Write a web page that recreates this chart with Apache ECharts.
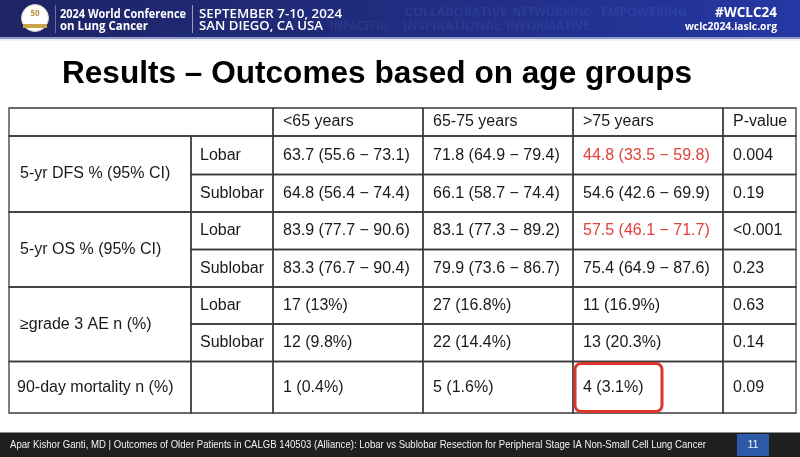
<!DOCTYPE html>
<html><head><meta charset="utf-8">
<script src="https://cdn.jsdelivr.net/npm/echarts@6/dist/echarts.min.js"></script>
<style>html,body{margin:0;padding:0;background:#fff;}#c{width:800px;height:457px;}</style>
</head><body><div id="c"></div>
<script>
// ---- data ----
const titleText = 'Results – Outcomes based on age groups';
const colHeaders = ['<65 years', '65-75 years', '>75 years', 'P-value'];
const outcomes = ['5-yr DFS % (95% CI)', '5-yr OS % (95% CI)', '≥grade 3 AE n (%)', '90-day mortality n (%)'];
const arms = ['Lobar', 'Sublobar'];
const dfsLobar = ['63.7 (55.6 − 73.1)', '71.8 (64.9 − 79.4)', '44.8 (33.5 − 59.8)', '0.004'];
const dfsSublobar = ['64.8 (56.4 − 74.4)', '66.1 (58.7 − 74.4)', '54.6 (42.6 − 69.9)', '0.19'];
const osLobar = ['83.9 (77.7 − 90.6)', '83.1 (77.3 − 89.2)', '57.5 (46.1 − 71.7)', '<0.001'];
const osSublobar = ['83.3 (76.7 − 90.4)', '79.9 (73.6 − 86.7)', '75.4 (64.9 − 87.6)', '0.23'];
const aeLobar = ['17 (13%)', '27 (16.8%)', '11 (16.9%)', '0.63'];
const aeSublobar = ['12 (9.8%)', '22 (14.4%)', '13 (20.3%)', '0.14'];
const mortality = ['1 (0.4%)', '5 (1.6%)', '4 (3.1%)', '0.09'];
const redCells = [[0, 2], [2, 2]];   // [body row, value column] shown in red
const boxedCells = [[6, 2]];         // [body row, value column] circled
const footerText = 'Apar Kishor Ganti, MD | Outcomes of Older Patients in CALGB 140503 (Alliance): Lobar vs Sublobar Resection for Peripheral Stage IA Non-Small Cell Lung Cancer';
const pageNo = '11';
const confName = ['2024 World Conference', 'on Lung Cancer'];
const confDate = ['SEPTEMBER 7-10, 2024', 'SAN DIEGO, CA USA'];
const confTag = ['#WCLC24', 'wclc2024.iaslc.org'];

// ---- layout (pixels) ----
const colEdges = [9, 191, 273, 423, 573, 723, 796];
const rowEdges = [108, 136, 174.5, 212, 249.5, 287, 324, 361.5, 413];
const RED = '#e2403a';

const measureCtx = document.createElement('canvas').getContext('2d');
function fitScale(text, font, width) {
  measureCtx.font = font;
  return width / measureCtx.measureText(text).width;
}

const bodyRows = [dfsLobar, dfsSublobar, osLobar, osSublobar, aeLobar, aeSublobar, mortality];
const cells = [];
function addCell(c0, c1, r0, r1, text, opt) {
  cells.push(Object.assign({x0: colEdges[c0], x1: colEdges[c1], y0: rowEdges[r0], y1: rowEdges[r1], text: text}, opt || {}));
}
addCell(0, 2, 0, 1, '');
colHeaders.forEach((h, i) => addCell(i + 2, i + 3, 0, 1, h));
for (let g = 0; g < 3; g++) addCell(0, 1, 1 + g * 2, 3 + g * 2, outcomes[g], {indent: 11});
addCell(0, 1, 7, 8, outcomes[3], {indent: 8});
for (let r = 0; r < 6; r++) addCell(1, 2, 1 + r, 2 + r, arms[r % 2], {indent: 9});
addCell(1, 2, 7, 8, '');
bodyRows.forEach((row, r) => {
  row.forEach((v, c) => {
    const red = redCells.some(p => p[0] === r && p[1] === c);
    const box = boxedCells.some(p => p[0] === r && p[1] === c);
    addCell(c + 2, c + 3, r + 1, r + 2, v, {color: red ? RED : '#1a1a1a', box: box});
  });
});

const chart = echarts.init(document.getElementById('c'), null, {renderer: 'canvas'});

function fittedText(text, x, y, font, width, fill, align) {
  const s = fitScale(text, font, width);
  return {type: 'text', x: x, y: y, scaleX: s,
    style: {text: text, fill: fill, font: font, align: align || 'left', verticalAlign: 'middle'}};
}

const graphics = [];
graphics.push({type: 'rect', shape: {x: 0, y: 0, width: 800, height: 38},
  style: {fill: new echarts.graphic.LinearGradient(0, 0, 1, 0, [
    {offset: 0, color: '#1d2565'}, {offset: 0.45, color: '#202b7c'}, {offset: 1, color: '#2538a3'}])}});
graphics.push({type: 'rect', shape: {x: 0, y: 37, width: 800, height: 2}, style: {fill: '#8e9acb'}});
graphics.push({type: 'rect', shape: {x: 0, y: 39, width: 800, height: 2}, style: {fill: '#eef0f6'}});
// faint watermark words
const wm = [
  ['COLLABORATIVE', 405, 13, 102], ['NETWORKING', 512, 13, 80], ['EMPOWERING', 601, 13, 86],
  ['INSPIRATIONAL', 403, 27, 98], ['INFORMATIVE', 506, 27, 84], ['IMPACTFUL', 330, 27, 60]
];
wm.forEach(w => graphics.push(Object.assign(
  fittedText(w[0], w[1], w[2], 'bold 12px "Open Sans", sans-serif', w[3], 'rgba(110,140,230,0.13)'), {silent: true})));
// logo
graphics.push({type: 'circle', shape: {cx: 35, cy: 18, r: 13.5}, style: {fill: '#ffffff', stroke: '#d8d2bb', lineWidth: 1}});
graphics.push({type: 'text', x: 35, y: 14, style: {text: '50', fill: '#b8953a', font: 'bold 8px "Open Sans", sans-serif', align: 'center', verticalAlign: 'middle'}});
graphics.push({type: 'rect', shape: {x: 23, y: 24, width: 24, height: 4}, style: {fill: '#c7a548'}});
graphics.push({type: 'line', shape: {x1: 55.5, y1: 5, x2: 55.5, y2: 33}, style: {stroke: 'rgba(255,255,255,0.35)', lineWidth: 1}});
graphics.push({type: 'line', shape: {x1: 192.5, y1: 5, x2: 192.5, y2: 33}, style: {stroke: 'rgba(255,255,255,0.55)', lineWidth: 1}});
// header texts
graphics.push(fittedText(confName[0], 60, 14.5, 'bold 12.5px "Open Sans", sans-serif', 126, '#fff'));
graphics.push(fittedText(confName[1], 60, 26.5, 'bold 12.5px "Open Sans", sans-serif', 88, '#fff'));
graphics.push(fittedText(confDate[0], 199, 14.5, '600 12.5px "Open Sans", sans-serif', 143, '#fff'));
graphics.push(fittedText(confDate[1], 199, 26.5, '600 12.5px "Open Sans", sans-serif', 124, '#fff'));
graphics.push(fittedText(confTag[0], 777, 13, 'bold 14px "Open Sans", sans-serif', 62, '#fff', 'right'));
graphics.push(fittedText(confTag[1], 777, 27, 'bold 11px "Open Sans", sans-serif', 92, '#fff', 'right'));
// title
graphics.push(fittedText(titleText, 62, 74, 'bold 31px "Liberation Sans", Arial, sans-serif', 630, '#000'));
// footer
graphics.push({type: 'rect', shape: {x: 0, y: 433, width: 800, height: 24}, style: {fill: '#1f1f1f'}});
graphics.push({type: 'rect', shape: {x: 0, y: 432, width: 800, height: 1}, style: {fill: '#8a8a8a'}});
graphics.push(fittedText(footerText, 10, 445, '10.5px "Liberation Sans", Arial, sans-serif', 696, '#f2f2f2'));
graphics.push({type: 'rect', shape: {x: 737, y: 434, width: 32, height: 22}, style: {fill: '#2d5aa8'}});
graphics.push({type: 'text', x: 753, y: 445, style: {text: pageNo, fill: '#fff', font: '10px "Liberation Sans", sans-serif', align: 'center', verticalAlign: 'middle'}});

chart.setOption({
  animation: false,
  backgroundColor: '#ffffff',
  grid: {left: 0, right: 0, top: 0, bottom: 0},
  xAxis: {type: 'value', min: 0, max: 800, show: false},
  yAxis: {type: 'value', min: 0, max: 457, inverse: true, show: false},
  graphic: graphics,
  series: [{
    type: 'custom',
    coordinateSystem: 'cartesian2d',
    data: cells.map(c => [c.x0, c.x1, c.y0, c.y1]),
    encode: {x: [0, 1], y: [2, 3]},
    renderItem: function (params, api) {
      const c = cells[params.dataIndex];
      const p0 = api.coord([api.value(0), api.value(2)]);
      const p1 = api.coord([api.value(1), api.value(3)]);
      const children = [{
        type: 'rect', shape: {x: p0[0], y: p0[1], width: p1[0] - p0[0], height: p1[1] - p0[1]},
        style: {fill: 'none', stroke: '#3a3a3a', lineWidth: 1.3}
      }];
      if (c.box) {
        children.push({type: 'rect', shape: {x: p0[0] + 2, y: p0[1] + 2, width: 87, height: p1[1] - p0[1] - 3.5, r: 6},
          style: {fill: 'none', stroke: '#d8372c', lineWidth: 3}});
      }
      if (c.text) {
        children.push({type: 'text', x: p0[0] + (c.indent || 10), y: (p0[1] + p1[1]) / 2,
          style: {text: c.text, fill: c.color || '#1a1a1a', font: '16px "Liberation Sans", Arial, sans-serif', verticalAlign: 'middle'}});
      }
      return {type: 'group', children: children};
    }
  }]
});
</script></body></html>
